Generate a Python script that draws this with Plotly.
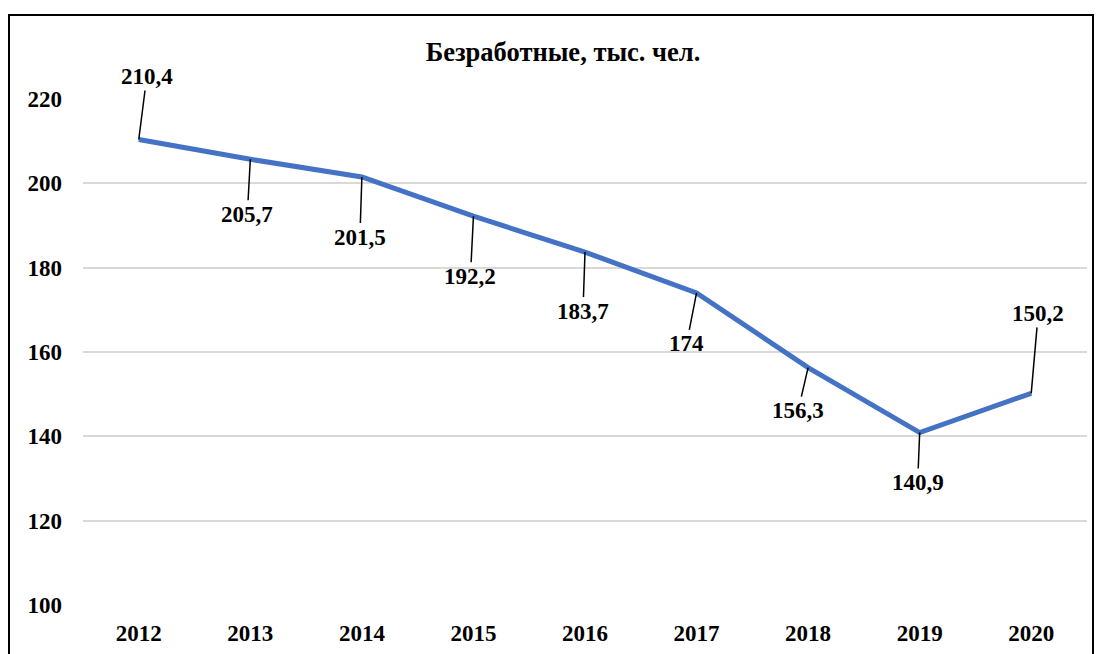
import plotly.graph_objects as go

years = ["2012", "2013", "2014", "2015", "2016", "2017", "2018", "2019", "2020"]
values = [210.4, 205.7, 201.5, 192.2, 183.7, 174.0, 156.3, 140.9, 150.2]
labels = ["210,4", "205,7", "201,5", "192,2", "183,7", "174", "156,3", "140,9", "150,2"]
y_ticks = [100, 120, 140, 160, 180, 200, 220]
title_text = "Безработные, тыс. чел."

# label offsets (pixels) relative to each point
offsets = [(8, -63), (-3, 55), (-2, 60), (-3, 60), (-2, 59), (-10, 51), (-10, 43), (-2, 50), (7, -80)]

FONT = "Liberation Serif"
W, H = 1095, 646  # page body has an 8px margin

fig = go.Figure()
fig.add_trace(go.Scatter(
    x=years, y=values, mode="lines",
    line=dict(color="#4472C4", width=5),
    hoverinfo="skip", showlegend=False,
))

for i, (v, lab, (ax, ay)) in enumerate(zip(values, labels, offsets)):
    fig.add_annotation(
        x=i, y=v, xref="x", yref="y", text=lab,
        showarrow=True, arrowhead=0, arrowwidth=1.5, arrowcolor="black",
        ax=ax, ay=ay, standoff=0, startstandoff=0,
        font=dict(family=FONT, size=23, color="black", weight="bold"),
    )

fig.update_layout(
    width=W, height=H,
    paper_bgcolor="white", plot_bgcolor="white",
    margin=dict(l=75, r=16, t=91, b=49, autoexpand=False),
    title=dict(
        text=title_text,
        x=(563 - 8) / W, xanchor="center",
        y=1 - (52 - 8) / H, yanchor="middle",
        font=dict(family=FONT, size=26.5, color="black", weight="bold"),
    ),
    xaxis=dict(
        type="category", range=[-0.5, 8.5], automargin=False,
        showgrid=False, showline=False, zeroline=False,
        tickfont=dict(family=FONT, size=23, color="black", weight="bold"),
        ticks="", ticklabelstandoff=12,
    ),
    yaxis=dict(
        range=[100, 220], tickvals=y_ticks, automargin=False,
        showgrid=True, gridcolor="#D9D9D9", gridwidth=1.5,
        showline=False, zeroline=False,
        tickfont=dict(family=FONT, size=23, color="black", weight="bold"),
        ticks="", ticklabelstandoff=20,
    ),
    shapes=[dict(
        type="rect", xref="paper", yref="paper",
        x0=(9 - 83) / 1004, x1=(1093 - 83) / 1004,
        y0=(605 - 670) / 506, y1=(605 - 15) / 506,
        line=dict(color="black", width=2), fillcolor="rgba(0,0,0,0)",
        layer="below",
    )],
)

fig.write_html("out.html")
